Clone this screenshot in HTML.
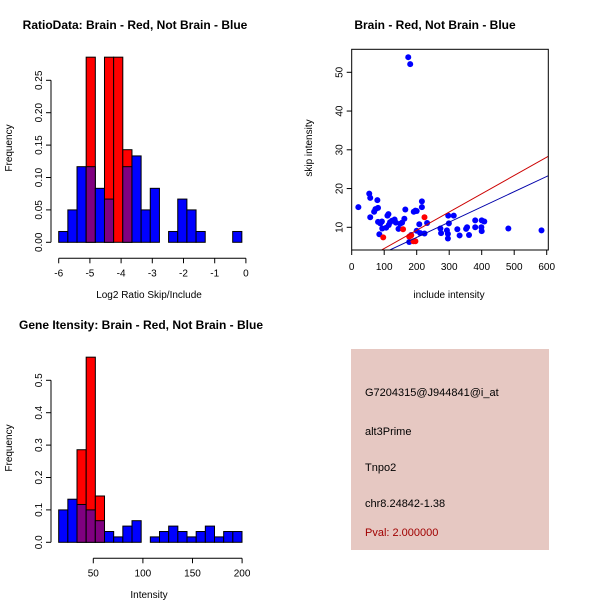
<!DOCTYPE html>
<html><head><meta charset="utf-8"><style>
body{margin:0;background:#fff;}
svg{display:block;font-family:"Liberation Sans",sans-serif;}
</style></head><body>
<svg id="c" width="600" height="600" viewBox="0 0 600 600">
<rect width="600" height="600" fill="#fff"/>
<text x="135" y="29" font-size="12" font-weight="bold" text-anchor="middle">RatioData: Brain - Red, Not Brain - Blue</text>
<text x="435" y="29" font-size="12" font-weight="bold" text-anchor="middle">Brain - Red, Not Brain - Blue</text>
<text x="141" y="329" font-size="12" font-weight="bold" text-anchor="middle">Gene Itensity: Brain - Red, Not Brain - Blue</text>
<text x="149" y="298" font-size="10" text-anchor="middle">Log2 Ratio Skip/Include</text>
<text x="12" y="148" font-size="10" text-anchor="middle" transform="rotate(-90 12 148)">Frequency</text>
<text x="149" y="598" font-size="10" text-anchor="middle">Intensity</text>
<text x="12" y="448" font-size="10" text-anchor="middle" transform="rotate(-90 12 448)">Frequency</text>
<text x="449" y="298" font-size="10" text-anchor="middle">include intensity</text>
<text x="312" y="148" font-size="10" text-anchor="middle" transform="rotate(-90 312 148)">skip intensity</text>
<g>
<rect x="351" y="349" width="198" height="201" fill="#e6c8c2"/>
<text x="365" y="396" font-size="11">G7204315@J944841@i_at</text>
<text x="365" y="435" font-size="11">alt3Prime</text>
<text x="365" y="471" font-size="11">Tnpo2</text>
<text x="365" y="507" font-size="11">chr8.24842-1.38</text>
<text x="365" y="536" font-size="11" fill="#a00000">Pval: 2.000000</text>
</g>
</svg>
<script>
const ratioBlue=[0.0167,0.05,0.1167,0.1167,0.0833,0.0667,0,0.1167,0.1333,0.05,0.0833,0,0.0167,0.0667,0.05,0.0167,0,0,0,0.0167];
const ratioRed=[0,0,0,0.2857,0,0.2857,0.2857,0.1429,0,0,0,0,0,0,0,0,0,0,0,0];
const ratioStart=-6, ratioBinW=0.2935;
const ratioXTicks=[-6,-5,-4,-3,-2,-1,0];
const ratioYTicks=["0.00","0.05","0.10","0.15","0.20","0.25"];
const intBlue=[0.1,0.133,0.1167,0.1,0.0667,0.0333,0.0167,0.05,0.0667,0,0.0167,0.0333,0.05,0.0333,0.0167,0.0333,0.05,0.0167,0.0333,0.0333];
const intRed=[0,0,0.2857,0.5714,0.1429,0,0,0,0,0,0,0,0,0,0,0,0,0,0,0];
const intStart=15.1, intBinW=9.24;
const intXTicks=[50,100,150,200];
const intYTicks=["0.0","0.1","0.2","0.3","0.4","0.5"];
const blueX=[20.5,54,57,57,69,73,79,81,81,85,88,93,94,106,110,113,114,118,124,132,136,144,149,155,162,165,174,180,177,183,191,196,200,200,208,216,216,211,224,232,273,275,293,296,297,296,299,314,325,332,352,355,361,380,380,400,399,400,408,482,584];
const blueY=[15.2,18.7,17.6,12.6,14,14.7,17,15,11.4,8.2,11,11.5,9.7,9.9,13,13.4,10.6,11.3,11.7,12,11.2,9.6,10.9,11.2,12.2,14.6,53.9,52.1,6.2,8,14,14.3,9.1,14.2,10.8,16.7,15.2,8.5,8.4,11.1,9.7,8.5,9.2,7.1,13,8.3,11,13,9.5,7.9,9.6,10,8,11.8,10,11.8,10,9,11.5,9.7,9.2];
const redX=[97,158,177,183,190,196,224];
const redY=[7.4,9.5,7.6,7.9,6.4,6.4,12.6];
const redFit=[-0.18,0.0471];
const blueFit=[-0.46,0.0393];
const scXTicks=[0,100,200,300,400,500,600];
const scYTicks=[10,20,30,40,50];

const svg=document.getElementById('c');
const NS='http://www.w3.org/2000/svg';
function mk(tag,attrs,parent){const e=document.createElementNS(NS,tag);for(const k in attrs)e.setAttribute(k,attrs[k]);(parent||svg).appendChild(e);return e;}

function hist(name,blue,red,start,bw,sx,sy,xt,yt,yStep,xAxisFrom,xAxisTo){
  const g=mk('g',{});
  
  
  blue.forEach((v,i)=>{
    const x0=sx(start+i*bw),x1=sx(start+(i+1)*bw);
    const r=red[i];
    if(r>0){const b=mk('rect',{x:x0,y:sy(r),width:x1-x0,height:sy(0)-sy(r),fill:'#ff0000',stroke:'#000','stroke-width':1},g);
      
      }
    if(v>0){const top=r>0?Math.max(v,0):v;
      const b=mk('rect',{x:x0,y:sy(v),width:x1-x0,height:sy(0)-sy(v),fill:r>0?'#800080':'#0000ff',stroke:'#000','stroke-width':1},g);
      
      }
  });
  const ax=mk('g',{stroke:'#000','stroke-width':1,fill:'none'},g);
  
  
  const by=sy(0)+16;
  mk('line',{x1:sx(xAxisFrom),x2:sx(xAxisTo),y1:by,y2:by},ax);
  xt.forEach(t=>{mk('line',{x1:sx(t),x2:sx(t),y1:by,y2:by+5},ax);
    const l=mk('text',{x:sx(t),y:by+18,'font-size':10,'text-anchor':'middle'},g);l.textContent=t;
    
    });
  const lx=51;
  mk('line',{x1:lx,x2:lx,y1:sy(0),y2:sy((yt.length-1)*yStep)},ax);
  yt.forEach((t,i)=>{const y=sy(i*yStep);mk('line',{x1:lx-5,x2:lx,y1:y,y2:y},ax);
    const l=mk('text',{x:lx-9,y:y,'font-size':10,'text-anchor':'middle',transform:`rotate(-90 ${lx-9} ${y})`},g);l.textContent=t;
    
    });
}
hist('ratio-histogram',ratioBlue,ratioRed,ratioStart,ratioBinW,v=>58.7+(v+6)*31.2,v=>242.3-v*648,ratioXTicks,ratioYTicks,0.05,-6,0);
hist('intensity-histogram',intBlue,intRed,intStart,intBinW,v=>93.3+(v-50)*0.992,v=>542.3-v*324,intXTicks,intYTicks,0.1,50,200);

// scatter
const sx=v=>351.7+v*0.325, sy=v=>227.3-(v-10)*3.875;
const L=351.7,R=548.3,T=49.3,B=250;
const sg=mk('g',{});


mk('defs',{}).innerHTML='<clipPath id="cp"><rect x="'+L+'" y="'+T+'" width="'+(R-L)+'" height="'+(B-T)+'"/></clipPath>';
blueX.forEach((x,i)=>{const c=mk('circle',{cx:sx(x),cy:sy(blueY[i]),r:3,fill:'#0000ff'},sg);
  
  });
redX.forEach((x,i)=>{const c=mk('circle',{cx:sx(x),cy:sy(redY[i]),r:3,fill:'#ff0000'},sg);
  
  });
[[redFit,'#cc0000','red-fit-line'],[blueFit,'#0000aa','blue-fit-line']].forEach(([f,col,n])=>{
  const x0=-10,x1=620;
  const l=mk('line',{x1:sx(x0),y1:sy(f[0]+f[1]*x0),x2:sx(x1),y2:sy(f[0]+f[1]*x1),stroke:col,'stroke-width':1,'clip-path':'url(#cp)'},sg);
  
  
});
const bx=mk('rect',{x:L,y:T,width:R-L,height:B-T,fill:'none',stroke:'#000'},sg);


scXTicks.forEach(t=>{mk('line',{x1:sx(t),x2:sx(t),y1:B,y2:B+5,stroke:'#000'},sg);
  const l=mk('text',{x:sx(t),y:B+20,'font-size':10,'text-anchor':'middle'},sg);l.textContent=t;
  
  });
scYTicks.forEach(t=>{const y=sy(t);mk('line',{x1:L-5,x2:L,y1:y,y2:y,stroke:'#000'},sg);
  const l=mk('text',{x:L-9,y:y,'font-size':10,'text-anchor':'middle',transform:`rotate(-90 ${L-9} ${y})`},sg);l.textContent=t;
  
  });
</script>
</body></html>
